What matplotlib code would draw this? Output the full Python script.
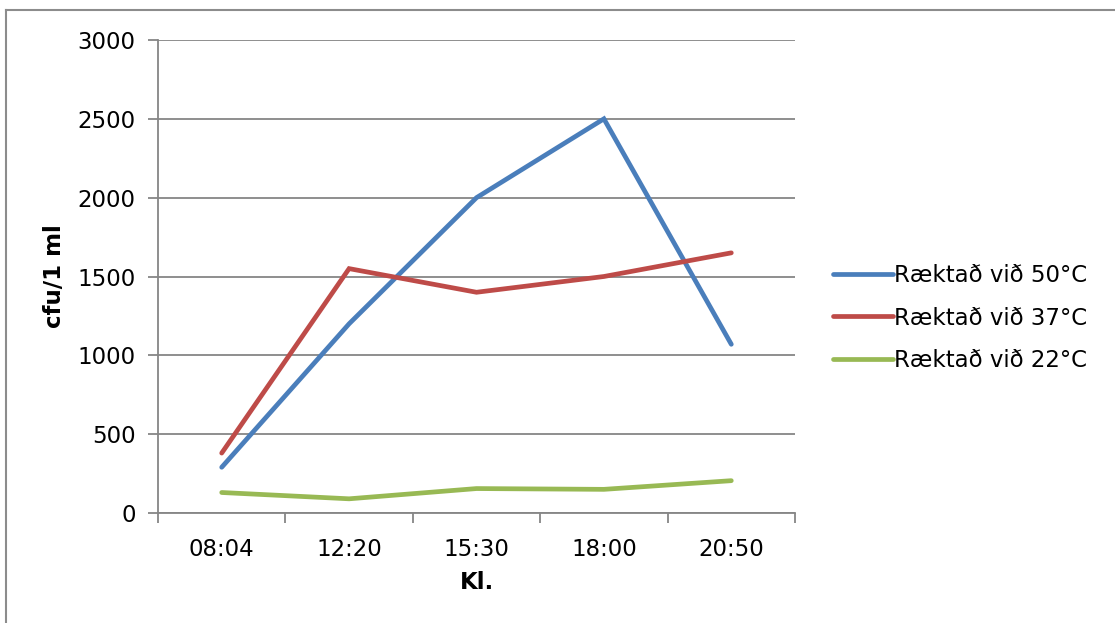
import numpy as np
import matplotlib
matplotlib.use('Agg')
import matplotlib.pyplot as plt
from matplotlib.lines import Line2D

# values
times = ['08:04', '12:20', '15:30', '18:00', '20:50']
cfu_50 = [290, 1200, 2000, 2500, 1070]
cfu_37 = [380, 1550, 1400, 1500, 1650]
cfu_22 = [130, 90, 155, 150, 205]
series_labels = ['Ræktað við 50°C', 'Ræktað við 37°C', 'Ræktað við 22°C']
yticks = [0, 500, 1000, 1500, 2000, 2500, 3000]

colors = ['#4A7EBB', '#BE4B48', '#98B954']
grid_col = '#868686'
fs = 16.5

W, H = 1115, 623
fig = plt.figure(figsize=(W / 100, H / 100), dpi=100)
ax = fig.add_axes([158 / W, 1 - 513 / H, (795 - 158) / W, (513 - 40) / H])

x = np.arange(len(times))
for vals, col, lab in zip([cfu_50, cfu_37, cfu_22], colors, series_labels):
    ax.plot(x, vals, color=col, lw=3.4, label=lab, solid_capstyle='round',
            solid_joinstyle='miter')

ax.set_xlim(-0.5, len(times) - 0.5)
ax.set_ylim(0, 3000)
ax.set_yticks(yticks)
ax.set_yticklabels([str(v) for v in yticks], fontsize=fs)
ax.set_xticks(x)
ax.set_xticklabels(times, fontsize=fs)
ax.set_xticks(np.arange(-0.5, len(times)), minor=True)
ax.tick_params(axis='x', which='major', length=0, pad=18)
ax.tick_params(axis='x', which='minor', length=7, width=1.3, color=grid_col, direction='out')
ax.tick_params(axis='y', length=7, width=1.3, color=grid_col, direction='out', pad=9)

ax.grid(axis='y', color=grid_col, lw=1.3)
ax.set_axisbelow(True)
for s in ['top', 'right']:
    ax.spines[s].set_visible(False)
for s in ['left', 'bottom']:
    ax.spines[s].set_color(grid_col)
    ax.spines[s].set_linewidth(1.3)

ax.set_xlabel('Kl.', fontsize=fs, fontweight='bold', labelpad=7)
ax.set_ylabel('cfu/1 ml', fontsize=fs, fontweight='bold', labelpad=8)

fig.legend(*ax.get_legend_handles_labels(), loc='center left',
           bbox_to_anchor=(833 / W, 1 - 318 / H), frameon=False,
           fontsize=fs, handlelength=2.6, handletextpad=0.05, labelspacing=0.85,
           borderaxespad=0, borderpad=0)

# outer chart frame (only top and left edges visible)
fig.add_artist(Line2D([5.5 / W, 1], [1 - 10 / H, 1 - 10 / H], color='#8c8c8c', lw=1.5,
                      transform=fig.transFigure))
fig.add_artist(Line2D([5.5 / W, 5.5 / W], [0, 1 - 10 / H], color='#8c8c8c', lw=1.5,
                      transform=fig.transFigure))

plt.savefig('out.png', dpi=100)
